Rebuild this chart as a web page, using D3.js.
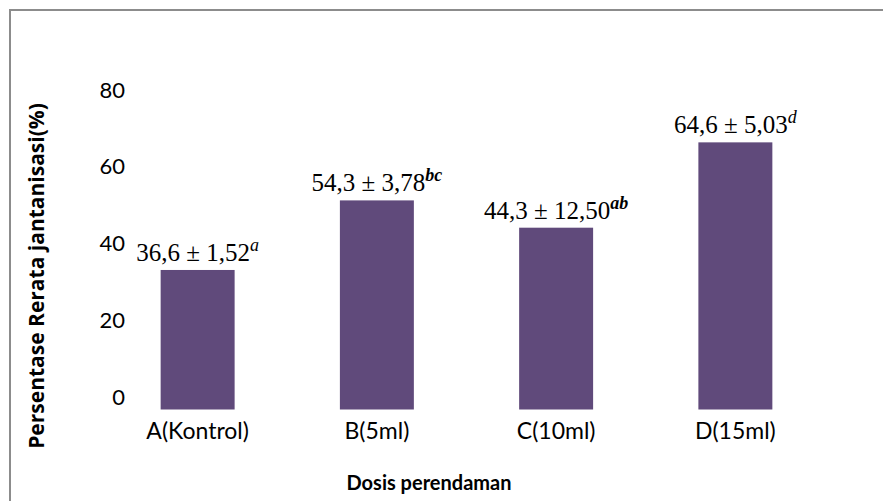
<!DOCTYPE html>
<html>
<head>
<meta charset="utf-8">
<script src="https://cdn.jsdelivr.net/npm/d3@7/dist/d3.min.js"></script>
<style>
  html, body { margin: 0; padding: 0; background: #fff; }
  svg { display: block; }
</style>
</head>
<body>
<script>
// ---- data ----
const categories = ["A(Kontrol)", "B(5ml)", "C(10ml)", "D(15ml)"];
const values = [36.3, 54.4, 47.3, 69.5];           // bar heights
const labelMain = ["36,6 \u00B1 1,52", "54,3 \u00B1 3,78", "44,3 \u00B1 12,50", "64,6 \u00B1 5,03"];
const labelSup = ["a", "bc", "ab", "d"];
const labelSupBold = [false, true, true, false];
const yTicks = [0, 20, 40, 60, 80];
const yTitle = "Persentase Rerata jantanisasi(%)";
const xTitle = "Dosis perendaman";

// ---- layout ----
const W = 883, H = 501;
const svg = d3.select("body").append("svg").attr("width", W).attr("height", H);

svg.append("rect").attr("x", 10).attr("y", 10).attr("width", 900).attr("height", 600)
  .attr("fill", "#fff").attr("stroke", "#8c8c8c").attr("stroke-width", 2);

const x = d3.scaleBand().domain(categories).range([108, 825])
  .paddingInner(0.5873).paddingOuter(0.2937);
const y = d3.scaleLinear().domain([0, 80]).range([409.5, 102]);

const sans = "Lato, 'Open Sans', 'Liberation Sans', sans-serif";
const serif = "'Liberation Serif', 'DejaVu Serif', serif";

// y axis (labels only)
const yAxis = d3.axisLeft(y).tickValues(yTicks).tickSize(0).tickPadding(0);
const gy = svg.append("g").attr("transform", "translate(125,-12)").call(yAxis);
gy.select(".domain").remove();
gy.selectAll("text").attr("font-family", sans).attr("font-size", 22).attr("fill", "#000");

// bars
svg.append("g").selectAll("rect").data(categories).join("rect")
  .attr("x", d => x(d))
  .attr("y", (d, i) => y(values[i]))
  .attr("width", x.bandwidth())
  .attr("height", (d, i) => y(0) - y(values[i]))
  .attr("fill", "#604a7b");

// value labels
const lab = svg.append("g").selectAll("text").data(categories).join("text")
  .attr("x", d => x(d) + x.bandwidth() / 2)
  .attr("y", (d, i) => y(values[i]) - 9)
  .attr("text-anchor", "middle")
  .attr("font-family", serif).attr("font-size", 25).attr("fill", "#000");
lab.append("tspan").text((d, i) => labelMain[i]);
lab.append("tspan").attr("dy", -10).attr("font-size", 18)
  .attr("font-style", "italic")
  .attr("font-weight", (d, i) => labelSupBold[i] ? "bold" : "normal")
  .text((d, i) => labelSup[i]);

// x category labels
svg.append("g").selectAll("text").data(categories).join("text")
  .attr("x", d => x(d) + x.bandwidth() / 2)
  .attr("y", 439)
  .attr("text-anchor", "middle")
  .attr("font-family", sans).attr("font-size", 23).attr("fill", "#000")
  .text(d => d);

// titles
svg.append("text").attr("x", 429).attr("y", 490).attr("text-anchor", "middle")
  .attr("font-family", sans).attr("font-size", 20).attr("font-weight", "bold").attr("fill", "#000")
  .text(xTitle);
svg.append("text").attr("transform", "translate(44,276) rotate(-90)").attr("text-anchor", "middle")
  .attr("font-family", "'Open Sans', Lato, sans-serif").attr("font-size", 21).attr("font-weight", "bold").attr("fill", "#000")
  .text(yTitle);
</script>
</body>
</html>
